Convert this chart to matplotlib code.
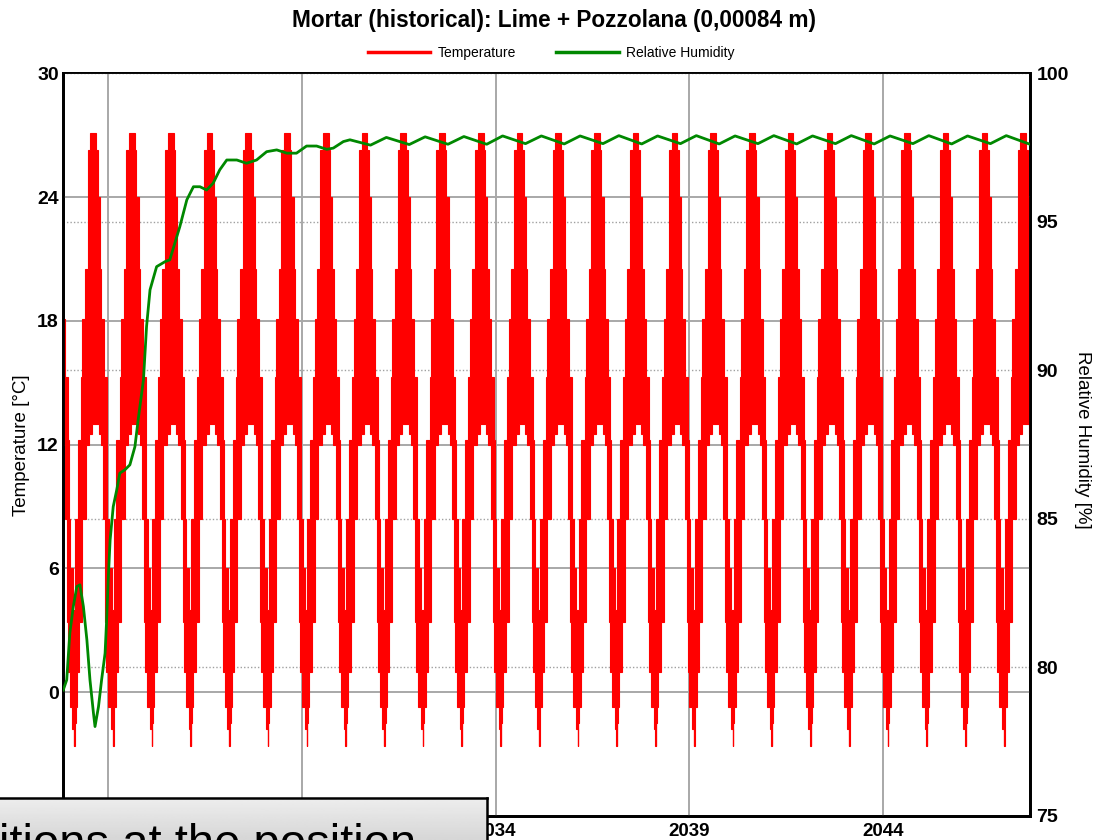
import numpy as np
import matplotlib

matplotlib.use("Agg")
import matplotlib.pyplot as plt
from matplotlib.lines import Line2D

plt.rcParams["font.family"] = ["Liberation Sans", "DejaVu Sans"]

# temperature: one yearly cycle (months from summer peak)
cycle_years = list(range(2022, 2048))
peak_frac = 0.63
upper_months = [-6.0, -5.73, -4.24, -3.81, -3.31, -2.26, -1.55, -0.53, 0.53,
                0.84, 1.55, 2.17, 2.38, 3.93, 4.09, 4.33, 4.95, 6.0]
upper_temp = [4.0, 8.4, 12.2, 15.3, 18.1, 20.5, 26.3, 27.1, 27.1,
              26.3, 24.0, 20.5, 18.1, 15.3, 12.2, 8.4, 6.0, 4.0]
lower_months = [-6.0, -5.82, -5.51, -4.95, -4.02, -3.10, -1.86, -0.93, 0.0,
                1.24, 1.86, 2.48, 3.41, 3.72, 4.02, 4.95, 5.73, 6.0]
lower_temp = [-2.6, -1.5, -0.7, 1.0, 3.4, 8.4, 12.0, 12.5, 13.0,
              13.0, 12.5, 12.0, 8.4, 3.4, 1.0, -0.7, -1.8, -2.6]

# relative humidity: wetting phase
rh_years = [2022.84, 2022.93, 2022.97, 2023.01, 2023.10, 2023.19, 2023.27, 2023.36,
            2023.45, 2023.53, 2023.62, 2023.66, 2023.75, 2023.83, 2023.92, 2023.96,
            2024.00, 2024.05, 2024.13, 2024.22, 2024.30, 2024.43, 2024.56, 2024.69,
            2024.78, 2024.91, 2024.99, 2025.08, 2025.25, 2025.47, 2025.59, 2025.72,
            2025.85, 2026.03, 2026.20, 2026.37, 2026.54, 2026.71, 2026.88, 2027.06,
            2027.32, 2027.57, 2027.83, 2028.09, 2028.35, 2028.61, 2028.86, 2029.12,
            2029.38, 2029.64, 2029.81, 2030.07, 2030.24]
rh_values = [79.24, 79.58, 80.37, 81.16, 82.05, 82.72, 82.78, 82.05,
             80.93, 79.58, 78.46, 78.01, 78.68, 79.58, 80.48, 81.60,
             82.95, 84.29, 85.41, 85.97, 86.54, 86.65, 86.82, 87.43,
             88.40, 89.68, 91.47, 92.71, 93.49, 93.66, 93.72, 94.28,
             94.84, 95.74, 96.18, 96.18, 96.07, 96.30, 96.75, 97.08,
             97.08, 96.97, 97.08, 97.36, 97.42, 97.31, 97.31, 97.55,
             97.55, 97.44, 97.48, 97.70, 97.76]
# relative humidity: equilibrium oscillation (yearly highs and lows)
rh_low_years = [2030.77, 2031.77, 2032.77, 2033.77, 2034.77, 2035.77, 2036.77, 2037.77, 2038.77,
                2039.77, 2040.77, 2041.77, 2042.77, 2043.77, 2044.77, 2045.77, 2046.77, 2047.77]
rh_low = [97.58, 97.60, 97.61, 97.61, 97.63, 97.62, 97.63, 97.62, 97.63,
          97.62, 97.63, 97.62, 97.63, 97.62, 97.63, 97.62, 97.63, 97.62]
rh_high_years = [2031.18, 2032.18, 2033.18, 2034.18, 2035.18, 2036.18, 2037.18, 2038.18, 2039.18,
                 2040.18, 2041.18, 2042.18, 2043.18, 2044.18, 2045.18, 2046.18, 2047.18]
rh_high = [97.84, 97.86, 97.87, 97.89, 97.89, 97.89, 97.90, 97.89, 97.90,
           97.89, 97.90, 97.89, 97.90, 97.89, 97.90, 97.89, 97.90]

x_ticks = [2024, 2029, 2034, 2039, 2044]
x_ticklabels = ["", "", "2034", "2039", "2044"]  # first two sit under the caption box
temp_ticks = [0, 6, 12, 18, 24, 30]
rh_ticks = [75, 80, 85, 90, 95, 100]


def stepped(xs, ys):
    # blocky edge like the pixel-drawn original
    px, py = [xs[0]], [ys[0]]
    for i in range(len(xs) - 1):
        xm = 0.5 * (xs[i] + xs[i + 1])
        px += [xm, xm, xs[i + 1]]
        py += [ys[i], ys[i + 1], ys[i + 1]]
    return np.array(px), np.array(py)


fig = plt.figure(figsize=(10.95, 8.4), dpi=100)
ax = fig.add_axes([0.0574, 0.0286, 0.8828, 0.8842])
ax2 = ax.twinx()
ax2.set_zorder(ax.get_zorder() - 1)
ax.patch.set_visible(False)
ax2.patch.set_facecolor("white")

# temperature band, one polygon per yearly cycle
ux, uy = stepped(np.array(upper_months) / 12.0, np.array(upper_temp))
lx, ly = stepped(np.array(lower_months) / 12.0, np.array(lower_temp))
for yr in cycle_years:
    peak = yr + peak_frac
    xs = np.concatenate([peak + ux, (peak + lx)[::-1]])
    ys = np.concatenate([uy, ly[::-1]])
    ax.fill(xs, ys, facecolor="#ff0000", edgecolor="#ff0000", lw=0.8, zorder=2)

# relative humidity line (drawn on top, using right-axis scale)
tail = sorted(zip(rh_low_years + rh_high_years, rh_low + rh_high))
rh_x = rh_years + [t[0] for t in tail]
rh_y = rh_values + [t[1] for t in tail]
ax.plot(rh_x, rh_y, color="#008800", lw=2.0, transform=ax2.transData, zorder=3)

ax.set_xlim(2022.83, 2047.78)
ax.set_ylim(-6, 30)
ax2.set_ylim(75, 100)

ax.set_xticks(x_ticks)
ax.set_xticklabels(x_ticklabels)
ax.set_yticks(temp_ticks)
ax.set_yticklabels([str(v) for v in temp_ticks])
ax2.set_yticks(rh_ticks)
ax2.set_yticklabels([str(v) for v in rh_ticks])

ax.set_axisbelow(True)
ax.grid(True, color="#a8a8a8", lw=1.4)
ax2.yaxis.grid(True, color="#a0a0a0", lw=1.0, ls=(0, (1, 1.5)))
ax2.xaxis.grid(False)

for a in (ax, ax2):
    for s in a.spines.values():
        s.set_color("black")
        s.set_linewidth(2.0)
    a.spines["top"].set_linewidth(1.3)

ax.tick_params(axis="x", length=0, pad=5, labelsize=13.5)
ax.tick_params(axis="y", length=0, pad=3, labelsize=14)
ax2.tick_params(axis="y", length=0, pad=5, labelsize=14)
for lbl in ax.get_xticklabels() + ax.get_yticklabels() + ax2.get_yticklabels():
    lbl.set_fontweight("bold")

fig.text(0.5055, 1 - 20 / 840, "Mortar (historical): Lime + Pozzolana (0,00084 m)",
         ha="center", va="center", fontsize=16.3, fontweight="bold")

handles = [Line2D([], [], color="#ff0000", lw=2.5), Line2D([], [], color="#008800", lw=2.5)]
fig.legend(handles, ["Temperature", "Relative Humidity"], ncol=2, loc="center",
           bbox_to_anchor=(551 / 1095, 1 - 53 / 840), frameon=False, fontsize=10,
           handlelength=4.5, handletextpad=0.5, columnspacing=2.9)

fig.text(22 / 1095, 1 - 445 / 840, "Temperature [°C]", rotation=90,
         ha="center", va="center", fontsize=13.5)
fig.text(1082 / 1095, 1 - 440 / 840, "Relative Humidity [%]", rotation=270,
         ha="center", va="center", fontsize=13.5)

# caption box overlapping the bottom of the chart (light grey gradient)
box_ax = fig.add_axes([-0.01, 0.0, (486.7 + 11) / 1095, (840 - 798.3) / 840], zorder=5)
grad = np.linspace(0.93, 0.84, 50).reshape(-1, 1)
box_ax.imshow(grad, cmap="gray", vmin=0, vmax=1, aspect="auto", extent=(0, 1, 0, 1))
box_ax.set_xticks([])
box_ax.set_yticks([])
for side in ("left", "bottom"):
    box_ax.spines[side].set_visible(False)
for side in ("top", "right"):
    box_ax.spines[side].set_linewidth(1.8)
    box_ax.spines[side].set_color("black")
fig.text(-1 / 1095, -17 / 840, "itions at the position", fontsize=34,
         ha="left", va="baseline", zorder=6)

fig.savefig("out.png", dpi=100)
